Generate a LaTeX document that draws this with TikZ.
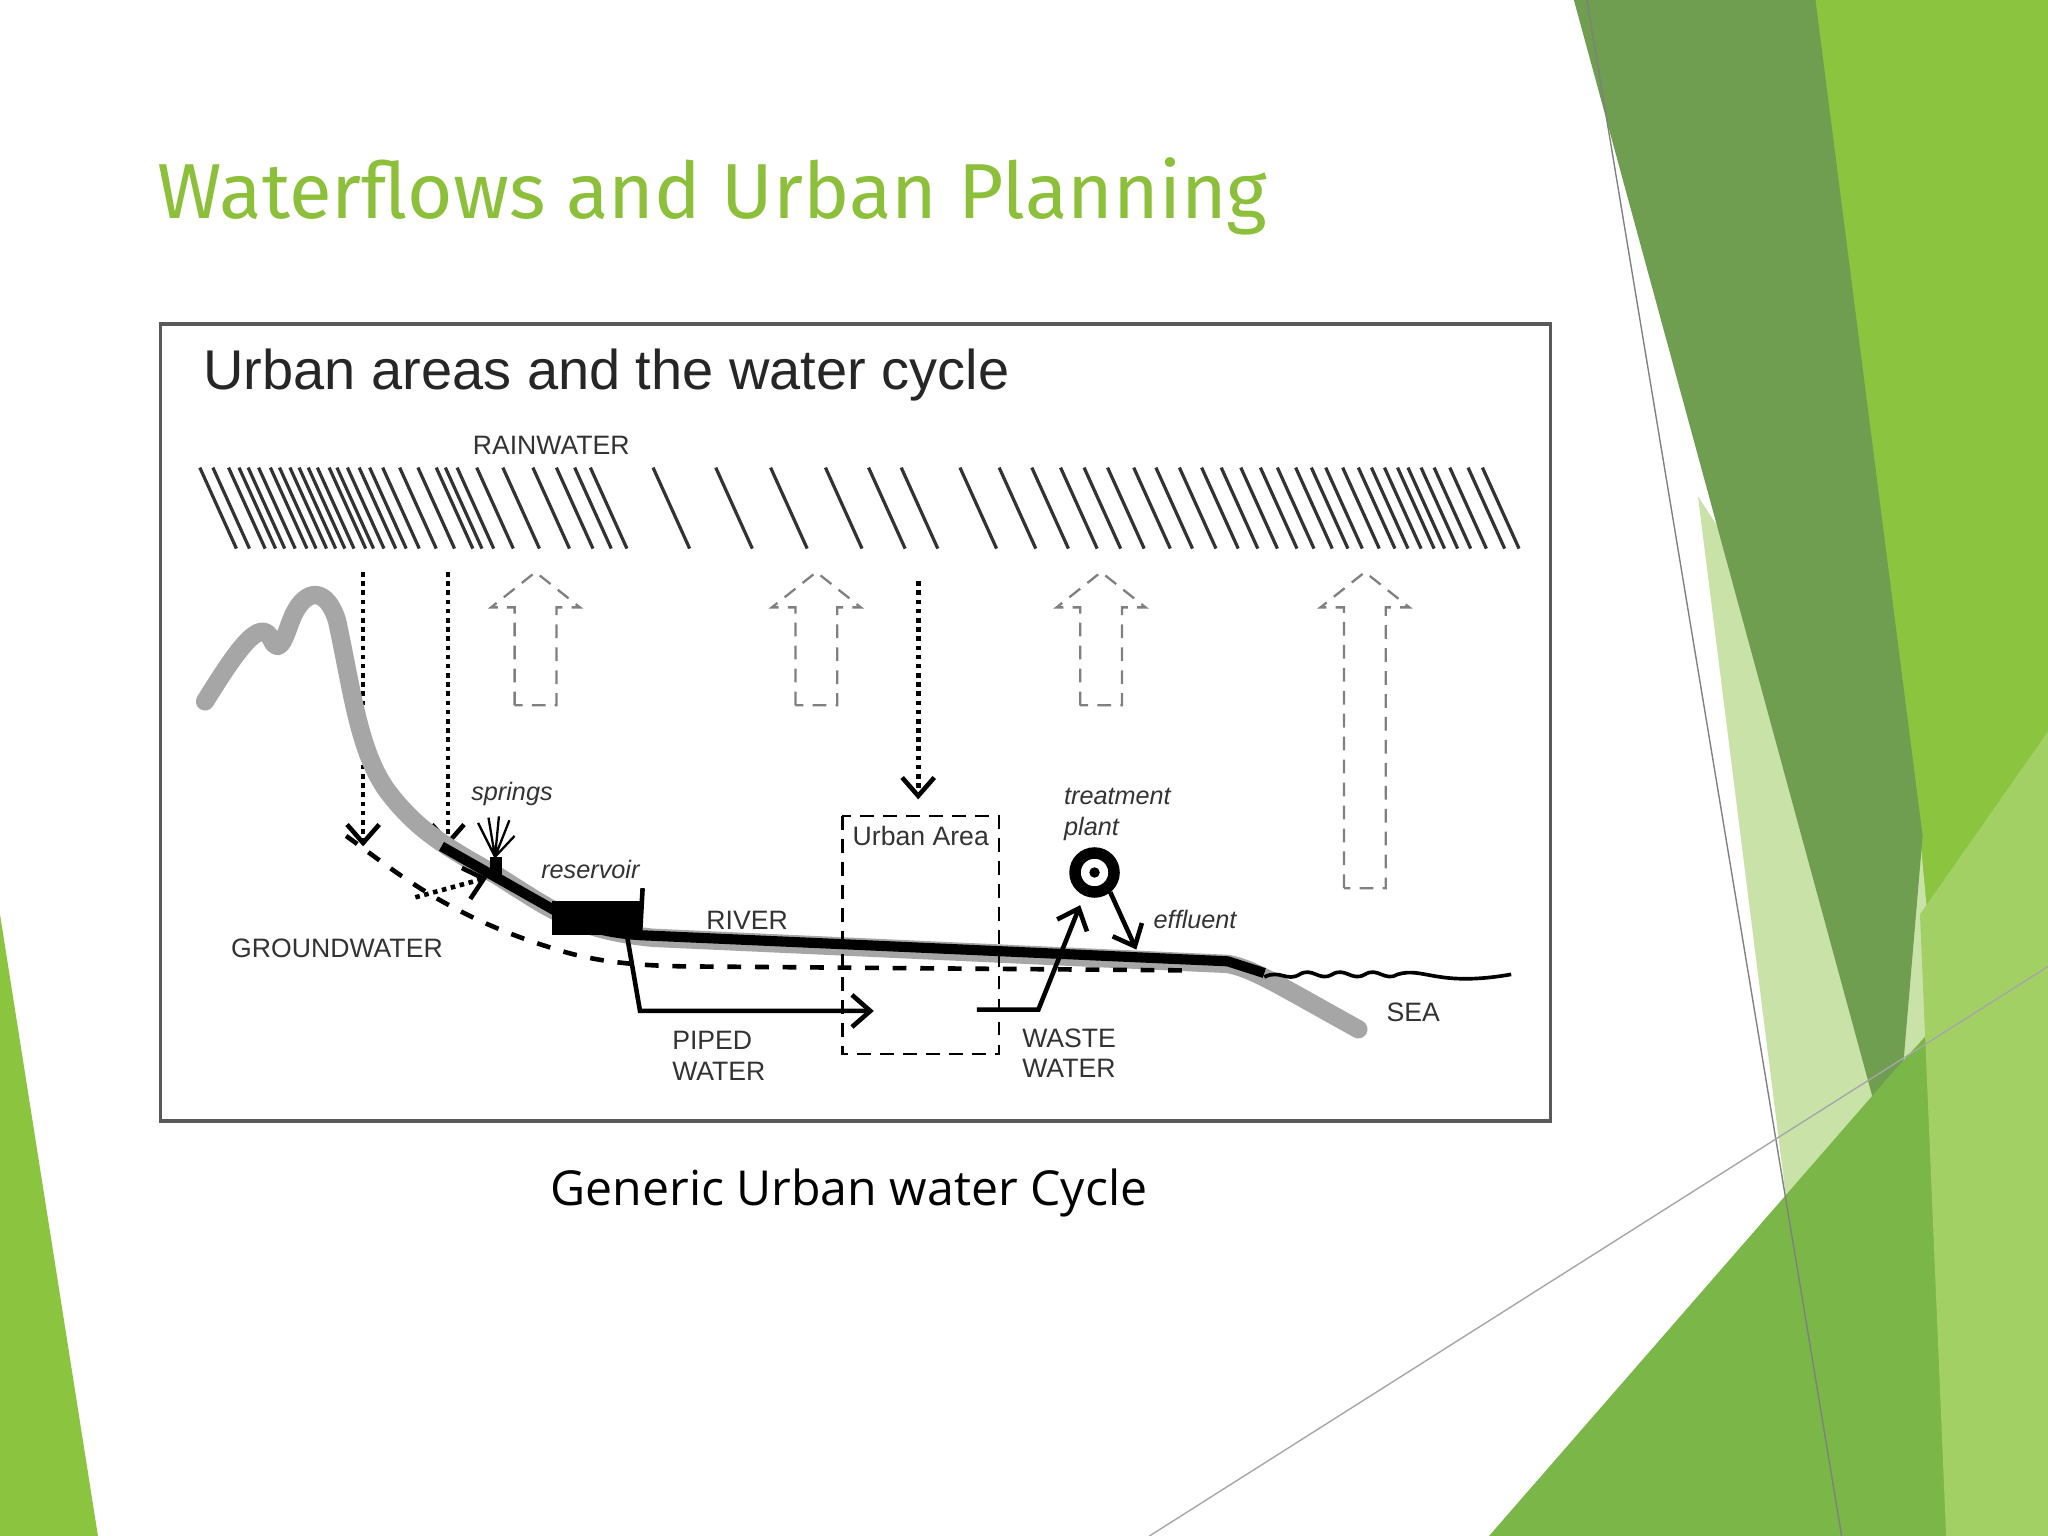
\documentclass[tikz,border=0pt]{standalone}
\usepackage{fontspec}
\setmainfont{Liberation Sans}
\newfontfamily\titlefont{Fira Sans}
\newfontfamily\capfont{Open Sans}
\usetikzlibrary{arrows.meta}
\definecolor{tgreen}{HTML}{8CBF3A}
\definecolor{dgreen}{HTML}{6F9E50}
\definecolor{bgreen}{HTML}{8BC43F}
\definecolor{lgreen}{HTML}{C9E2A8}
\definecolor{mgreen}{HTML}{7AB648}
\begin{document}
\begin{tikzpicture}[x=0.1mm,y=-0.1mm,
  lbl/.style={font=\fontsize{5.8}{6.6}\selectfont,inner sep=0pt,text=black!80},
  ilbl/.style={font=\fontsize{5.5}{6.6}\itshape\selectfont,inner sep=0pt,text=black!80},
  hollow/.style={draw=gray,densely dashed,line width=0.5pt},
  dotarrow/.style={densely dotted,line width=1pt,-{Straight Barb[length=4pt,width=7pt]}},
  solidarrow/.style={line width=1pt,-{Straight Barb[length=4pt,width=7pt]}}]
\useasboundingbox (0,0) rectangle (1568,1176);
\fill[white] (0,0) rectangle (1568,1176);
% background shapes
\fill[bgreen] (1385,0)--(1568,0)--(1568,1176)--(1430,1176)--cycle;
\fill[lgreen] (1300,380)--(1470,640)--(1520,1176)--(1400,1176)--cycle;
\fill[dgreen] (1205,0)--(1390,0)--(1472,640)--(1450,900)--cycle;
\fill[mgreen] (1140,1176)--(1450,820)--(1568,690)--(1568,1176)--cycle;
\fill[bgreen!80!white] (1470,700)--(1568,560)--(1568,1176)--(1490,1176)--cycle;
\fill[bgreen] (0,700)--(75,1176)--(0,1176)--cycle;
\draw[gray,line width=0.3pt] (1215,0)--(1410,1176);
\draw[gray!70,line width=0.3pt] (880,1176)--(1568,740);
% title
\node[anchor=west,text=tgreen,font=\titlefont\fontsize{17}{20}\selectfont,inner sep=0pt] (title) at (120,150) {Waterflows and Urban Planning};
\node[font=\capfont\fontsize{10.5}{12}\selectfont,inner sep=0pt] (cap) at (650,913) {Generic Urban water Cycle};
% frame
\draw[gray!70!black,line width=0.8pt] (123,248) rectangle (1187,858);
\node[anchor=west,font=\fontsize{12.2}{14}\selectfont,inner sep=0pt,text=black!85] (h) at (155,287) {Urban areas and the water cycle};
\node[lbl] (rain) at (422,341) {RAINWATER};
% rain
\foreach \x in {153,163,175,183,190,198,207,214,222,229,236,243,252,258,266,275,283,293,306,320,334,341,350,365,385,408,426,440,452,500,548,590,632,665,690,735,765,790,812,830,848,868,885,903,920,935,950,965,978,992,1004,1015,1028,1040,1050,1060,1070,1078,1088,1098,1110,1124,1135}
  \draw[line width=0.7pt,black!80] (\x,358)--(\x+28,420);
% hollow arrows
\foreach \x/\b in {410/540,625/540,843/540,1045/680}
  \draw[hollow] (\x-16,\b)--(\x-16,465)--(\x-34,465)--(\x,438)--(\x+34,465)--(\x+16,465)--(\x+16,\b)--cycle;
% dotted arrows
\coordinate (d1s) at (278,438); \coordinate (d1e) at (278,648);
\coordinate (d2s) at (343,438); \coordinate (d2e) at (343,648);
\coordinate (d3s) at (703,445); \coordinate (d3e) at (703,612);
\draw[dotarrow] (d1s)--(d1e);
\draw[dotarrow] (d2s)--(d2e);
\draw[dotarrow] (d3s)--(d3e);
% gray ground
\draw[gray!70,line width=4pt,line cap=round,line join=round] (157,537) .. controls (180,500) and (200,470) .. (208,490) .. controls (215,505) and (220,480) .. (225,470) .. controls (235,450) and (250,450) .. (258,475) .. controls (270,530) and (275,580) .. (300,610) .. controls (320,635) and (340,648) .. (380,670) .. controls (420,695) and (440,712) .. (500,718) -- (940,738) .. controls (960,742) and (975,752) .. (1040,788);
% sea
\draw[line width=0.8pt] (968,748) .. controls (980,742) and (985,752) .. (995,746) .. controls (1005,740) and (1010,752) .. (1020,746) .. controls (1030,740) and (1035,752) .. (1045,746) .. controls (1055,740) and (1060,752) .. (1070,746) .. controls (1090,740) and (1100,756) .. (1157,746);
% black river
\draw[line width=2.2pt,line join=round] (338,648) -- (430,700) .. controls (445,708) and (460,714) .. (490,716) -- (940,736) -- (968,745);
% reservoir
\fill (423,690) rectangle (490,716);
\draw[line width=1pt] (490,716)--(492,680);
% spring
\fill (375,656) rectangle (384,672);
\draw[line width=0.5pt] (379,656)--(366,630) (379,656)--(374,626) (379,656)--(382,625) (379,656)--(390,628) (379,656)--(394,640);
% groundwater dashed
\draw[dashed,line width=1pt] (265,640) .. controls (300,665) and (340,700) .. (420,725) .. controls (450,735) and (480,740) .. (540,740) -- (915,743);
\draw[dotarrow] (318,687)--(373,672);
% piped water
\coordinate (p0) at (480,716);
\coordinate (p1) at (669,774);
\draw[solidarrow] (p0)--(490,774)--(p1);
% waste water
\coordinate (w0) at (748,773);
\coordinate (w1) at (827,693);
\draw[solidarrow] (w0)--(795,773)--(w1);
% treatment plant
\node[circle,draw,line width=2.5pt,minimum size=8.5pt,inner sep=0pt] (tp) at (838,668) {};
\fill (tp.center) circle (4);
\coordinate (ef) at (870,727);
\draw[solidarrow] (850,683)--(ef);
% urban area
\draw[densely dashed,line width=0.5pt] (645,625) rectangle (765,807);
\node[lbl] (ua) at (705,640) {Urban Area};
% labels
\node[ilbl] (spr) at (392,608) {springs};
\node[ilbl] (res) at (452,666) {reservoir};
\node[lbl] (riv) at (572,705) {RIVER};
\node[lbl] (gw) at (258,726) {GROUNDWATER};
\node[ilbl,align=left,anchor=north west] (tpl) at (814,603) {treatment\\plant};
\node[ilbl] (eff) at (915,704) {effluent};
\node[lbl] (sea) at (1082,775) {SEA};
\node[lbl,align=left,anchor=north west] (pw) at (514,789) {PIPED\\WATER};
\node[lbl,align=left,anchor=north west] (ww) at (782,787) {WASTE\\WATER};
\end{tikzpicture}
\end{document}
